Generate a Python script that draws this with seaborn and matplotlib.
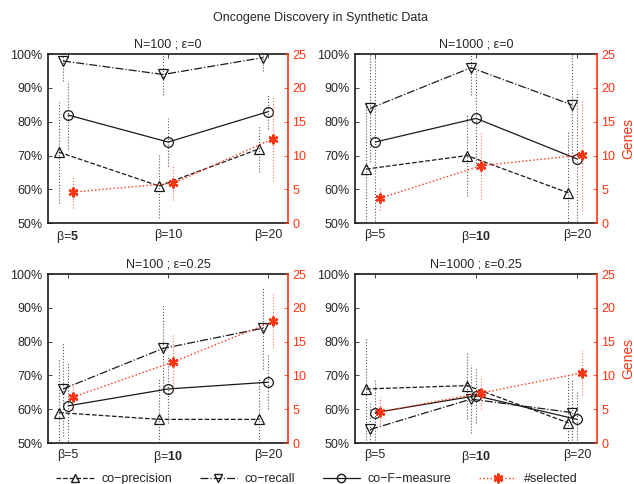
import matplotlib
matplotlib.use("Agg")
import matplotlib.pyplot as plt
from matplotlib.lines import Line2D
import numpy as np
import pandas as pd
import seaborn as sns

# data
panel_titles = ["N=100 ; ε=0", "N=1000 ; ε=0", "N=100 ; ε=0.25", "N=1000 ; ε=0.25"]
betas = ["5", "10", "20"]
best_beta = [0, 1, 1, 1]  # index of the bold tick in each panel

precision = [[71, 61, 72], [66, 70, 59], [59, 57, 57], [66, 67, 56]]
recall = [[98, 94, 99], [84, 96, 85], [66, 78, 84], [54, 63, 59]]
fmeasure = [[82, 74, 83], [74, 81, 69], [61, 66, 68], [59, 64, 57]]
selected = [[4.6, 5.9, 12.5], [3.7, 8.5, 10.1], [6.8, 12.0, 18.0], [4.6, 7.4, 10.4]]

precision_err = [[15, 9.5, 7], [20, 12, 18], [16, 12, 12], [15, 10, 14]]
recall_err = [[6, 6, 4], [16, 8, 16], [14, 13, 12], [8, 10, 10]]
fmeasure_err = [[10, 7, 5], [25, 15, 20], [13, 10, 8], [10, 8, 8]]
selected_err = [[2.4, 2.5, 6.2], [1.7, 5.0, 8.3], [2.1, 4.0, 4.0], [2.2, 2.3, 3.3]]

RED = "#ff3311"

sns.set_theme(style="white")
plt.rcParams["font.family"] = ["Liberation Sans", "DejaVu Sans"]
plt.rcParams["mathtext.fontset"] = "custom"
plt.rcParams["mathtext.rm"] = "Liberation Sans"
plt.rcParams["mathtext.bf"] = "Liberation Sans:bold"
plt.rcParams["xtick.direction"] = "in"
plt.rcParams["ytick.direction"] = "in"

fig = plt.figure(figsize=(6.34, 4.84), dpi=100)
positions = [
    [0.0757, 0.539, 0.379, 0.349],
    [0.560, 0.539, 0.382, 0.349],
    [0.0757, 0.0847, 0.379, 0.349],
    [0.560, 0.0847, 0.382, 0.349],
]

series = [
    ("co\u2212precision", precision, precision_err, -0.09, "--", "^"),
    ("co\u2212recall", recall, recall_err, -0.05, "-.", "v"),
    ("co\u2212F\u2212measure", fmeasure, fmeasure_err, 0.0, "-", "o"),
]
base_x = np.array([1, 2, 3])

for i, pos in enumerate(positions):
    ax = fig.add_axes(pos)
    ax2 = ax.twinx()
    for name, vals, errs, off, ls, mk in series:
        xs = base_x + off
        ax.errorbar(xs, vals[i], yerr=errs[i], fmt="none", ecolor="#555555",
                    elinewidth=0.8, capsize=0)
        for c in ax.collections[-1:]:
            c.set_linestyle(":")
        df = pd.DataFrame({"x": xs, "y": vals[i]})
        sns.lineplot(data=df, x="x", y="y", ax=ax, color="k", linestyle=ls,
                     marker=mk, markersize=7, markerfacecolor="none",
                     markeredgecolor="k", markeredgewidth=0.9, linewidth=0.9)
    xs = base_x + 0.05
    ax2.errorbar(xs, selected[i], yerr=selected_err[i], fmt="none", ecolor=RED,
                 elinewidth=0.8, capsize=0, alpha=0.7)
    for c in ax2.collections[-1:]:
        c.set_linestyle(":")
    df = pd.DataFrame({"x": xs, "y": selected[i]})
    sns.lineplot(data=df, x="x", y="y", ax=ax2, color=RED, linestyle=":",
                 marker=(6, 2, 0), markersize=7, markeredgecolor=RED,
                 markeredgewidth=1.6, linewidth=1.0)

    ax.set_xlim(0.8, 3.2)
    ax.set_ylim(50, 100)
    ax.set_yticks(range(50, 101, 10))
    ax.set_yticklabels([f"{v}%" for v in range(50, 101, 10)], fontsize=9)
    ax.set_xticks(base_x)
    labels = []
    for j, b in enumerate(betas):
        if j == best_beta[i]:
            labels.append("β=$\\mathbf{" + b + "}$")
        else:
            labels.append("β=" + b)
    ax.set_xticklabels(labels, fontsize=9)
    ax.set_xlabel("")
    ax.set_ylabel("")
    ax.set_title(panel_titles[i], fontsize=9, pad=5)
    ax.tick_params(axis="both", length=3, width=0.6, pad=4, top=True)

    ax2.set_ylim(0, 25)
    ax2.set_yticks(range(0, 26, 5))
    ax2.set_yticklabels([str(v) for v in range(0, 26, 5)], fontsize=9, color=RED)
    ax2.tick_params(axis="y", colors=RED, length=3, width=0.6, pad=3)
    ax2.set_ylabel("Genes" if i % 2 == 1 else "", color=RED, fontsize=10)
    for s in ["left", "top", "bottom"]:
        ax.spines[s].set_color("k")
        ax.spines[s].set_linewidth(1.2)
        ax2.spines[s].set_visible(False)
    ax.spines["right"].set_visible(False)
    ax2.spines["right"].set_color(RED)
    ax2.spines["right"].set_linewidth(1.2)

fig.text(0.505, 0.962, "Oncogene Discovery in Synthetic Data", ha="center",
         va="center", fontsize=9)

handles = [
    Line2D([], [], color="k", linestyle="--", marker="^", markerfacecolor="none",
           markersize=6, linewidth=0.9),
    Line2D([], [], color="k", linestyle="-.", marker="v", markerfacecolor="none",
           markersize=6, linewidth=0.9),
    Line2D([], [], color="k", linestyle="-", marker="o", markerfacecolor="none",
           markersize=6, linewidth=0.9),
    Line2D([], [], color=RED, linestyle=":", marker=(6, 2, 0), markeredgecolor=RED,
           markeredgewidth=1.6, markersize=7, linewidth=1.0),
]
fig.legend(handles, ["co\u2212precision", "co\u2212recall", "co\u2212F\u2212measure",
                     "#selected"],
           loc="lower center", bbox_to_anchor=(0.5, -0.026), ncol=4, frameon=False,
           fontsize=9, handlelength=3, columnspacing=2.2, handletextpad=0.6)

fig.savefig("out.png", dpi=100)
